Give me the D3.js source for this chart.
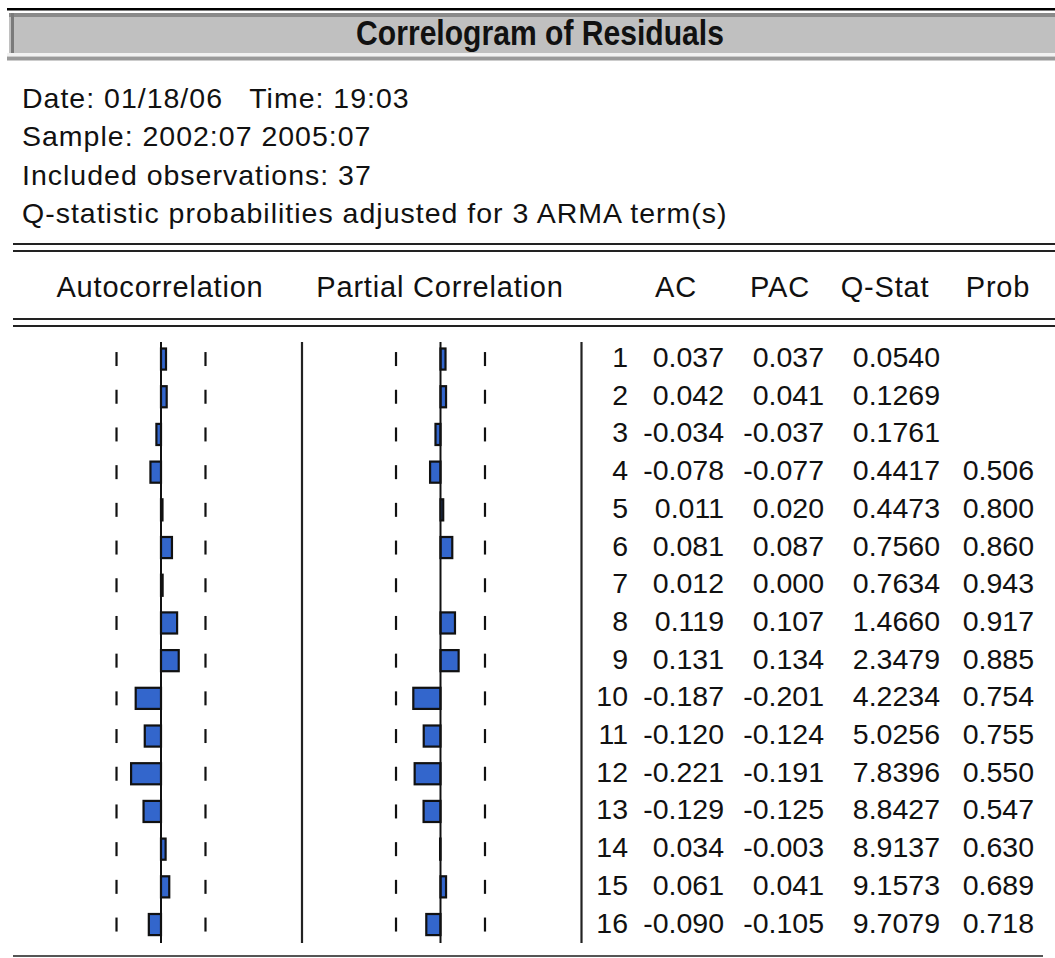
<!DOCTYPE html>
<html>
<head>
<meta charset="utf-8">
<script src="https://cdn.jsdelivr.net/npm/d3@7/dist/d3.min.js"></script>
<style>
  html, body { margin: 0; padding: 0; background: #fff; }
  svg { display: block; }
  text { font-family: "Liberation Sans", Arial, sans-serif; fill: #111; white-space: pre; }
</style>
</head>
<body>
<svg id="chart" width="1055" height="958"></svg>
<script>
// Correlogram values
const lags = [1, 2, 3, 4, 5, 6, 7, 8, 9, 10, 11, 12, 13, 14, 15, 16];
const acValues = [0.037, 0.042, -0.034, -0.078, 0.011, 0.081, 0.012, 0.119, 0.131, -0.187, -0.120, -0.221, -0.129, 0.034, 0.061, -0.090];
const pacValues = [0.037, 0.041, -0.037, -0.077, 0.020, 0.087, 0.000, 0.107, 0.134, -0.201, -0.124, -0.191, -0.125, -0.003, 0.041, -0.105];
const qStat = ["0.0540", "0.1269", "0.1761", "0.4417", "0.4473", "0.7560", "0.7634", "1.4660", "2.3479", "4.2234", "5.0256", "7.8396", "8.8427", "8.9137", "9.1573", "9.7079"];
const probValues = ["", "", "", "0.506", "0.800", "0.860", "0.943", "0.917", "0.885", "0.754", "0.755", "0.550", "0.547", "0.630", "0.689", "0.718"];
const nObs = 37;

const titleText = "Correlogram of Residuals";
const infoLines = [
  "Date: 01/18/06   Time: 19:03",
  "Sample: 2002:07 2005:07",
  "Included observations: 37",
  "Q-statistic probabilities adjusted for 3 ARMA term(s)"
];
const columnHeaders = ["Autocorrelation", "Partial Correlation", "AC", "PAC", "Q-Stat", "Prob"];

const svg = d3.select("#chart");
const W = 1055;

// ---- Title bar ----
svg.append("rect").attr("x", 7).attr("y", 8).attr("width", W - 7).attr("height", 2.5).attr("fill", "#000");
svg.append("rect").attr("x", 7).attr("y", 11).attr("width", W - 7).attr("height", 50).attr("fill", "#fff");
svg.append("rect").attr("x", 9).attr("y", 13).attr("width", W - 9).attr("height", 4).attr("fill", "#8a8a8a");
svg.append("rect").attr("x", 9).attr("y", 17).attr("width", W - 9).attr("height", 36).attr("fill", "#c0c0c0");
svg.append("rect").attr("x", 11).attr("y", 13).attr("width", 3).attr("height", 40).attr("fill", "#7a7a7a");
svg.append("rect").attr("x", 7).attr("y", 53).attr("width", W - 7).attr("height", 3).attr("fill", "#f2f2f2");
svg.append("rect").attr("x", 7).attr("y", 56.5).attr("width", W - 7).attr("height", 4).attr("fill", "#9a9a9a");

// condensed bold title
svg.append("text")
  .attr("transform", "translate(540,45) scale(0.86,1)")
  .attr("text-anchor", "middle")
  .style("font-weight", "bold")
  .style("font-size", "35px")
  .text(titleText);

// ---- Info lines ----
svg.append("g").selectAll("text")
  .data(infoLines)
  .join("text")
  .attr("x", 22)
  .attr("y", (d, i) => 108 + i * 38.3)
  .style("font-size", "28.5px")
  .style("letter-spacing", "1px")
  .text(d => d);

// ---- Double rules ----
const ruleYs = [244, 251, 319, 326];
svg.append("g").selectAll("line")
  .data(ruleYs)
  .join("line")
  .attr("x1", 13).attr("x2", W)
  .attr("y1", d => d).attr("y2", d => d)
  .attr("stroke", "#222").attr("stroke-width", 2);

// ---- Column headers ----
const headerX = [160, 440, 676, 780, 885, 998];
svg.append("g").selectAll("text")
  .data(columnHeaders)
  .join("text")
  .attr("x", (d, i) => headerX[i])
  .attr("y", 297)
  .attr("text-anchor", "middle")
  .style("font-size", "29px")
  .style("letter-spacing", "0.8px")
  .text(d => d);

// ---- Row scale ----
const y = d3.scaleBand()
  .domain(lags)
  .range([340.2, 943.4])
  .paddingInner(0.44)
  .paddingOuter(0.22);
const rowC = d => y(d) + y.bandwidth() / 2;

// ---- Bar panels ----
const pxPerUnit = 135.3;
const acX = d3.scaleLinear().domain([-1, 1]).range([161 - pxPerUnit, 161 + pxPerUnit]);
const pacX = d3.scaleLinear().domain([-1, 1]).range([440.5 - pxPerUnit, 440.5 + pxPerUnit]);
const bound = 2 / Math.sqrt(nObs);

function panel(xs, values) {
  const g = svg.append("g");
  // confidence dashes
  [-bound, bound].forEach(b => {
    g.append("g").selectAll("line")
      .data(lags)
      .join("line")
      .attr("x1", xs(b)).attr("x2", xs(b))
      .attr("y1", d => rowC(d) - 7).attr("y2", d => rowC(d) + 7)
      .attr("stroke", "#111").attr("stroke-width", 2.2);
  });
  // bars
  g.append("g").selectAll("rect")
    .data(lags.map((l, i) => ({ lag: l, v: values[i] })))
    .join("rect")
    .attr("x", d => Math.min(xs(0), xs(d.v)))
    .attr("y", d => y(d.lag))
    .attr("width", d => Math.abs(xs(d.v) - xs(0)))
    .attr("height", y.bandwidth())
    .attr("fill", "#3366cc")
    .attr("stroke", "#111")
    .attr("stroke-width", 2.2);
  // zero axis
  g.append("line")
    .attr("x1", xs(0)).attr("x2", xs(0))
    .attr("y1", 342).attr("y2", 943)
    .attr("stroke", "#111").attr("stroke-width", 2);
}
panel(acX, acValues);
panel(pacX, pacValues);

// separators
[302, 581.5].forEach(x => {
  svg.append("line")
    .attr("x1", x).attr("x2", x)
    .attr("y1", 342).attr("y2", 943)
    .attr("stroke", "#222").attr("stroke-width", 2.2);
});

// ---- Numeric table ----
const fmt3 = v => v.toFixed(3);
const colRight = [628, 724, 824, 940, 1034];
const rows = lags.map((l, i) => [String(l), fmt3(acValues[i]), fmt3(pacValues[i]), qStat[i], probValues[i]]);
const rowG = svg.append("g").selectAll("g")
  .data(rows)
  .join("g")
  .attr("transform", (d, i) => `translate(0,${rowC(lags[i]) + 8})`);
rowG.selectAll("text")
  .data(d => d)
  .join("text")
  .attr("x", (d, j) => colRight[j])
  .attr("text-anchor", "end")
  .style("font-size", "28.5px")
  .text(d => d);

// bottom rule
svg.append("line")
  .attr("x1", 13).attr("x2", 1043)
  .attr("y1", 956).attr("y2", 956)
  .attr("stroke", "#555").attr("stroke-width", 2);
</script>
</body>
</html>
